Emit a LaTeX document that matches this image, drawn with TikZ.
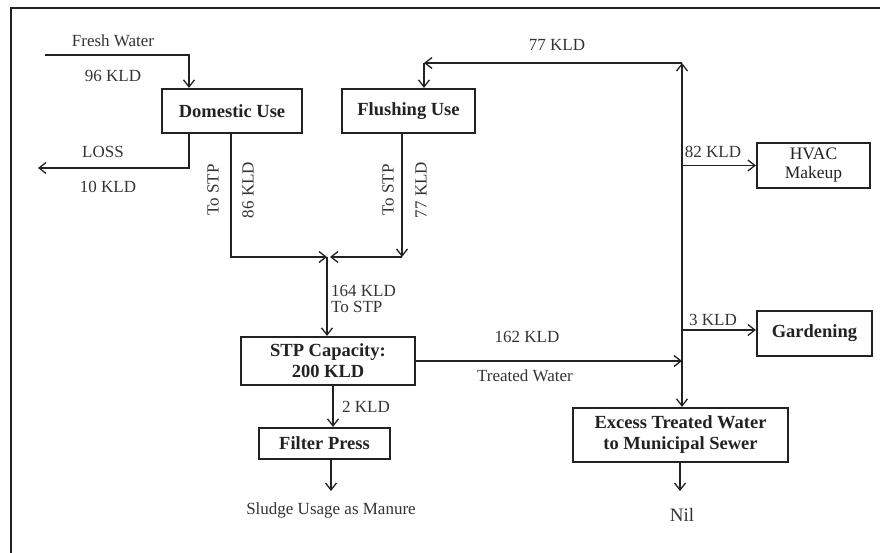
\documentclass[tikz,border=0pt]{standalone}
\usepackage{fontspec}
\setmainfont{Liberation Serif}
\usetikzlibrary{arrows.meta,calc}
\definecolor{ink}{HTML}{222222}
\definecolor{txt}{HTML}{333333}
\tikzset{
  box/.style={draw=ink, line width=2.2pt, fill=white, align=center, inner sep=2pt,
    font=\fontsize{18.5}{21}\selectfont\bfseries, text=ink},
  lbl/.style={font=\fontsize{17}{19}\selectfont, text=txt, inner sep=1pt},
  arr/.style={draw=ink, line width=1.3pt, -{Straight Barb[length=7pt,width=11pt,line width=1.3pt]}},
}
\begin{document}
\begin{tikzpicture}[x=1pt,y=-1pt]
\useasboundingbox (0,0) rectangle (880,553);
% frame
\coordinate (fa) at (11,553);
\coordinate (fb) at (11,8);
\coordinate (fc) at (880,8);
\draw[ink, line width=1.6pt] (fa) -- (fb) -- (fc);

% boxes
\node[box, minimum width=140pt, minimum height=44pt] (dom) at (232,111) {Domestic Use};
\node[box, minimum width=133pt, minimum height=44pt] (flu) at (408.5,111) {Flushing Use};
\node[box, minimum width=113pt, minimum height=45pt, font=\fontsize{17.5}{19}\selectfont] (hvac) at (813.5,165.5) {HVAC\\Makeup};
\node[box, minimum width=115pt, minimum height=45pt] (gard) at (814.5,333.5) {Gardening};
\node[box, minimum width=174pt, minimum height=48pt] (stp) at (328,361) {STP Capacity:\\200 KLD};
\node[box, minimum width=131pt, minimum height=31pt] (fp) at (324.5,443.5) {Filter Press};
\node[box, minimum width=215pt, minimum height=54pt] (exc) at (680.5,435) {Excess Treated Water\\to Municipal Sewer};

% fresh water
\coordinate (fw) at (45,55);
\coordinate (fwc) at (189,55);
\draw[arr] (fw) -- (fwc) -- (fwc |- dom.north);
\node[lbl] (lfw) at (113,41) {Fresh Water};
\node[lbl] (l96) at (113,76) {96 KLD};

% loss
\coordinate (ls) at (189,168);
\coordinate (le) at (38,168);
\draw[arr] (ls |- dom.south) -- (ls) -- (le);
\node[lbl] (lloss) at (103,152) {LOSS};
\node[lbl] (l10) at (108,187) {10 KLD};

% domestic to STP
\coordinate (d1) at (231,257);
\coordinate (jn) at (327,257);
\draw[arr] (d1 |- dom.south) -- (d1) -- (jn);
\node[lbl, rotate=90] (ld1) at (213,190) {To STP};
\node[lbl, rotate=90] (ld2) at (248,190) {86 KLD};

% flushing to STP
\coordinate (f1) at (402,257);
\coordinate (jn2) at (330,257);
\draw[arr] (f1 |- flu.south) -- (f1);
\draw[arr] (f1) -- (jn2);
\node[lbl, rotate=90] (lf1) at (388,190) {To STP};
\node[lbl, rotate=90] (lf2) at (421,190) {77 KLD};

% junction to STP
\draw[arr] (jn) -- (jn |- stp.north);
\node[lbl, anchor=west, align=left, font=\fontsize{17}{16}\selectfont] (l164) at (330,298.5) {164 KLD\\To STP};

% STP to filter press
\coordinate (s2) at (333,400);
\draw[arr] (s2 |- stp.south) -- (s2 |- fp.north);
\node[lbl] (l2) at (366,407) {2 KLD};

% filter press to sludge
\coordinate (sl) at (331,491);
\draw[arr] (sl |- fp.south) -- (sl);
\node[lbl] (lsl) at (331,510) {Sludge Usage as Manure};

% STP to main line
\coordinate (m) at (682,361);
\draw[arr] (stp.east) -- (m);
\node[lbl] (l162) at (527,337) {162 KLD};
\node[lbl] (ltw) at (525,376) {Treated Water};

% main line up and back to flushing
\coordinate (mt) at (682,63);
\coordinate (ft) at (424,63);
\draw[arr] (m) -- (mt);
\draw[arr] (mt) -- (ft);
\draw[arr] (ft) -- (ft |- flu.north);
\node[lbl] (l77) at (557,45) {77 KLD};

% main line down to excess
\draw[arr] (m) -- (m |- exc.north);

% HVAC
\draw[arr] (hvac.west -| m) -- (hvac.west);
\node[lbl] (l82) at (713,152) {82 KLD};

% gardening
\coordinate (g) at (682,330);
\draw[arr] (g) -- (g -| gard.west);
\node[lbl] (l3) at (713,320) {3 KLD};

% excess to nil
\coordinate (nl) at (680,491);
\draw[arr] (nl |- exc.south) -- (nl);
\node[lbl, font=\fontsize{19}{21}\selectfont] (lnil) at (682,515) {Nil};
\end{tikzpicture}
\end{document}
